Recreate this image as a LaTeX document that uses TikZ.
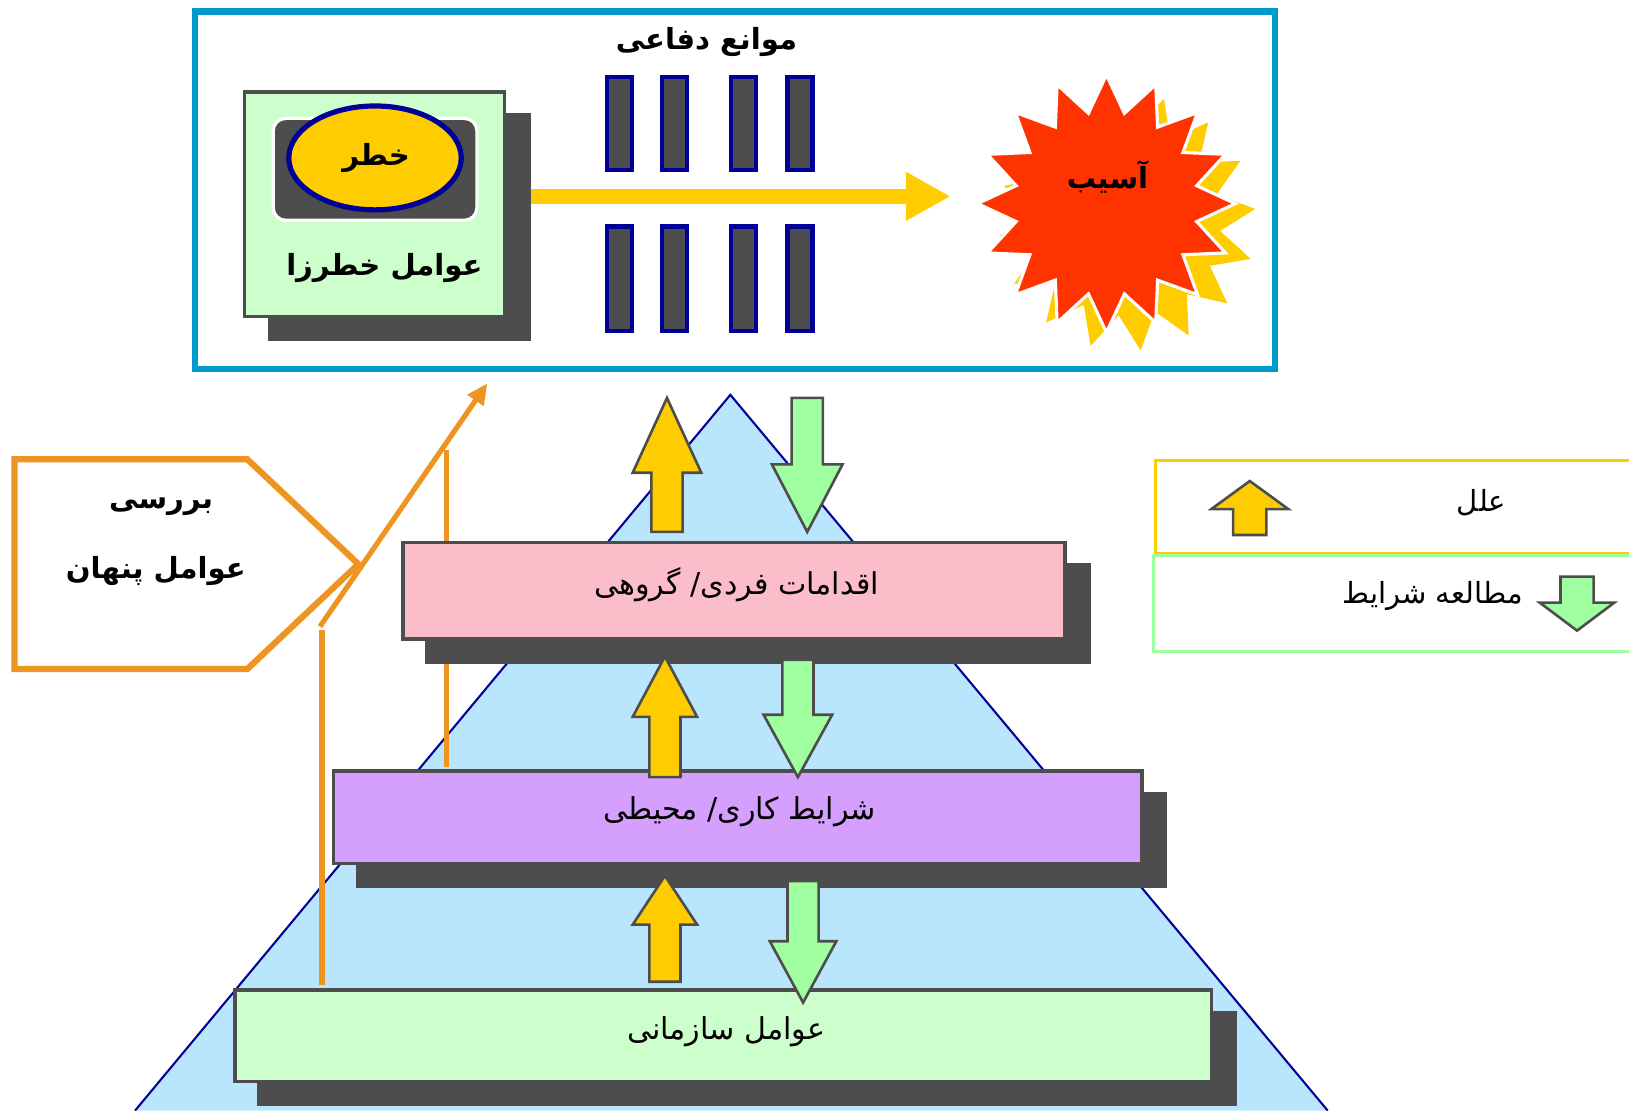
\documentclass[tikz,border=0pt]{standalone}
\usepackage{fontspec}
\newfontfamily\fa[Script=Arabic]{DejaVu Sans}
\TeXXeTstate=1
\usetikzlibrary{arrows.meta,shapes.geometric}
\definecolor{frameblue}{HTML}{0099CC}
\definecolor{lgreen}{HTML}{CCFFCC}
\definecolor{dgray}{HTML}{4D4D4D}
\definecolor{gold}{HTML}{FFCC00}
\definecolor{navy}{HTML}{000099}
\definecolor{starred}{HTML}{FF3300}
\definecolor{pyrblue}{HTML}{B9E6FC}
\definecolor{pinkc}{HTML}{FBBDC9}
\definecolor{purplec}{HTML}{D59FFD}
\definecolor{orangec}{HTML}{EE9420}
\definecolor{arrgreen}{HTML}{A0FFA0}
\pgfdeclarelayer{pyr}
\pgfdeclarelayer{shad}
\pgfsetlayers{pyr,shad,main}
\begin{document}
\begin{tikzpicture}[x=1pt,y=-1pt,
  box/.style={draw=dgray, line width=3.5pt, rectangle, inner sep=0pt},
  txt/.style={font=\fa\fontsize{29pt}{34pt}\selectfont, inner sep=0pt},
  btxt/.style={font=\fa\bfseries\fontsize{28pt}{33pt}\selectfont, inner sep=0pt},
  ltxt/.style={font=\fa\fontsize{28pt}{33pt}\selectfont, inner sep=0pt},
  barrier/.style={rectangle, draw=navy, fill=dgray, line width=4pt, minimum width=24pt, inner sep=0pt},
  yarr/.style={fill=gold, draw=dgray, line width=2.5pt, line join=miter},
  garr/.style={fill=arrgreen, draw=dgray, line width=2.5pt, line join=miter},
  orangeline/.style={draw=orangec, line width=5pt},
  shadowfill/.style={fill=dgray}
]
\useasboundingbox (0,0) rectangle (1568,1069);

% pyramid
\begin{pgfonlayer}{pyr}
\path[fill=pyrblue] (130,1069) -- (703,380) -- (1278,1069) -- cycle;
\draw[navy, line width=2pt] (130,1069) -- (703,380) -- (1278,1069);
\end{pgfonlayer}

% frame
\node[draw=frameblue, line width=6pt, minimum width=1039pt, minimum height=344pt, inner sep=0pt] (frame) at (707.5,183) {};
\node[btxt] (title) at (680,40) {\beginR موانع دفاعی\endR};

% hazard box
\node[box, fill=lgreen, minimum width=250pt, minimum height=216pt] (haz) at (360.5,196.5) {};
\begin{pgfonlayer}{shad}
\fill[shadowfill] ([shift={(24,22)}]haz.north west) rectangle ([shift={(24,22)}]haz.south east);
\end{pgfonlayer}
\node[rectangle, rounded corners=12pt, fill=dgray, draw=white, line width=3pt, minimum width=196pt, minimum height=98pt] (inner) at (361,163) {};
\node[ellipse, fill=gold, draw=navy, line width=5pt, minimum width=166pt, minimum height=100pt, inner sep=0pt] (danger) at (361,152) {};
\node[btxt] (dangertxt) at (362,152) {\beginR خطر\endR};
\node[btxt] (hazt) at (370,258) {\beginR عوامل خطرزا\endR};

% barriers
\foreach \x [count=\i] in {596,649,716,770}{
  \node[barrier, minimum height=90pt] (bt\i) at (\x,119) {};
  \node[barrier, minimum height=101pt] (bb\i) at (\x,268.5) {};
}

% harm star
\node[star, star points=16, star point ratio=1.38, minimum size=248pt, fill=gold, inner sep=0pt, shape border rotate=6] (harmback) at (1085,214) {};
\node[star, star points=16, star point ratio=1.4, minimum size=248pt, fill=starred, draw=white, line width=3pt, inner sep=0pt] (harm) at (1065,196) {};
\node[btxt] (harmt) at (1066,170) {\beginR آسیب\endR};

% flow arrow
\coordinate (fs) at (511,189);
\coordinate (fe) at (915,189);
\draw[gold, line width=14pt, -{Triangle[length=43pt,width=44pt]}] (fs) -- (fe);

% pyramid boxes
\node[box, fill=pinkc, minimum width=637pt, minimum height=93pt] (pink) at (706.5,568.5) {};
\node[txt] (pinkt) at (709,563) {\beginR اقدامات فردی/ گروهی\endR};
\node[box, fill=purplec, minimum width=778pt, minimum height=89pt] (purp) at (710,786.5) {};
\node[txt] (purpt) at (712,781) {\beginR شرایط کاری/ محیطی\endR};
\node[box, fill=lgreen, minimum width=940pt, minimum height=88pt] (org) at (696,997) {};
\node[txt] (orgt) at (699,993) {\beginR عوامل سازمانی\endR};
\begin{pgfonlayer}{shad}
\fill[shadowfill] ([shift={(23,22)}]pink.north west) rectangle ([shift={(23,22)}]pink.south east);
\fill[shadowfill] ([shift={(23,22)}]purp.north west) rectangle ([shift={(23,22)}]purp.south east);
\fill[shadowfill] ([shift={(23,22)}]org.north west) rectangle ([shift={(23,22)}]org.south east);
\end{pgfonlayer}

% orange hidden-factor lines (behind boxes)
\coordinate (v1b) at (310,948);
\coordinate (v1t) at (310,606);
\coordinate (v2b) at (430,738);
\coordinate (v2t) at (430,433);
\begin{pgfonlayer}{pyr}
\draw[orangeline] (v1b) -- (v1t);
\draw[orangeline] (v2b) -- (v2t);
\end{pgfonlayer}

% pentagon callout
\path[draw=orangec, fill=white, line width=6pt, line join=miter] (14,442) -- (238,442) -- (345,543) -- (238,644) -- (14,644) -- cycle;
\node[btxt] (probe1) at (155,488) {\beginR بررسی\endR};
\node[btxt] (probe2) at (150,550) {\beginR عوامل پنهان\endR};
\coordinate (ds) at (308,603);
\coordinate (de) at (469,369);
\draw[orangeline, -{Triangle[length=20pt,width=18pt]}] (ds) -- (de);

% block arrows
\draw[yarr] (642,383) -- (675,455) -- (657,455) -- (657,512) -- (627,512) -- (627,455) -- (609,455) -- cycle;
\draw[garr] (762,383) -- (792,383) -- (792,447) -- (811,447) -- (777,512) -- (743,447) -- (762,447) -- cycle;
\draw[yarr] (640,632) -- (671,690) -- (655,690) -- (655,748) -- (625,748) -- (625,690) -- (609,690) -- cycle;
\draw[garr] (753,635) -- (783,635) -- (783,688) -- (801,688) -- (768,748) -- (735,688) -- (753,688) -- cycle;
\draw[yarr] (640,843) -- (671,890) -- (655,890) -- (655,945) -- (625,945) -- (625,890) -- (609,890) -- cycle;
\draw[garr] (758,848) -- (788,848) -- (788,906) -- (805,906) -- (773,965) -- (741,906) -- (758,906) -- cycle;

% legend
\node[rectangle, draw=gold, line width=3pt, minimum width=463pt, minimum height=90pt, inner sep=0pt] (lc) at (1343.5,488) {};
\node[rectangle, draw=arrgreen, line width=3pt, minimum width=465pt, minimum height=92pt, inner sep=0pt] (lm) at (1342.5,581) {};
\node[ltxt] (lct) at (1426,484) {\beginR علل\endR};
\node[ltxt] (lmt) at (1379,574) {\beginR مطالعه شرایط\endR};
\draw[yarr] (1203,463) -- (1240,490) -- (1219,490) -- (1219,515) -- (1187,515) -- (1187,490) -- (1166,490) -- cycle;
\draw[garr] (1502,555) -- (1534,555) -- (1534,580) -- (1554,580) -- (1518,607) -- (1482,580) -- (1502,580) -- cycle;
\end{tikzpicture}
\end{document}
